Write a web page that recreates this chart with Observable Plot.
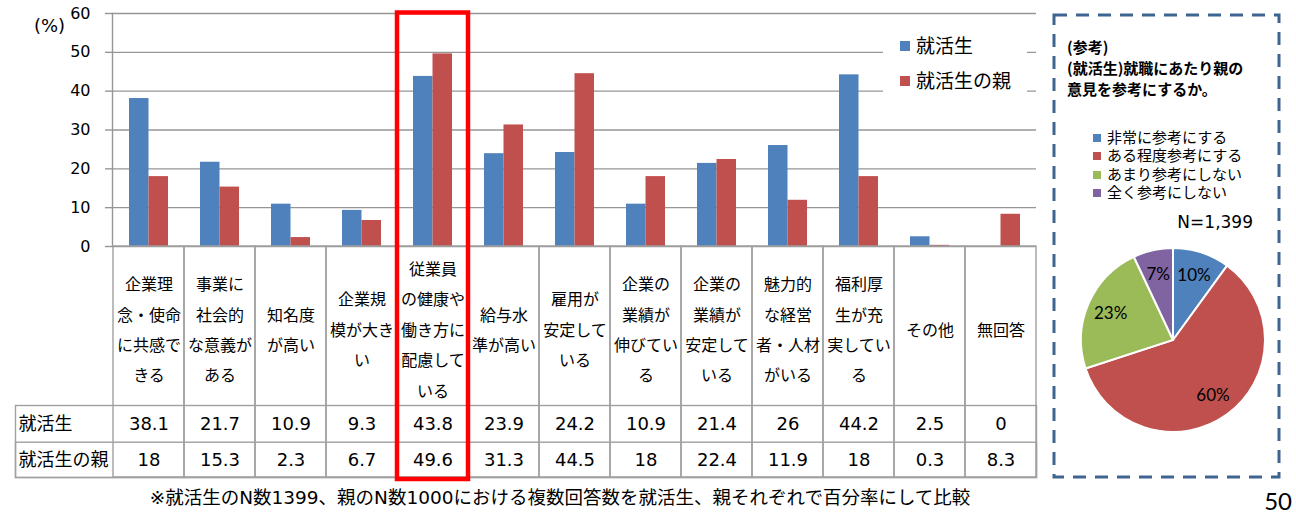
<!DOCTYPE html>
<html><head><meta charset="utf-8">
<script src="https://cdn.jsdelivr.net/npm/d3@7"></script>
<script src="https://cdn.jsdelivr.net/npm/@observablehq/plot@0.6"></script>
<style>
body{margin:0;background:#fff;}
#wrap{position:relative;width:1296px;height:517px;overflow:hidden;font-family:'Noto Sans CJK JP',sans-serif;background:#fff;}
#wrap svg{overflow:visible;}
.abs{position:absolute;}
</style></head><body><div id="wrap"></div>
<script>
// ---- data ----
const categories = ["企業理念・使命に共感できる","事業に社会的な意義がある","知名度が高い","企業規模が大きい","従業員の健康や働き方に配慮している","給与水準が高い","雇用が安定している","企業の業績が伸びている","企業の業績が安定している","魅力的な経営者・人材がいる","福利厚生が充実している","その他","無回答"];
const categoryLabels = ["企業理\n念・使命\nに共感で\nきる","事業に\n社会的\nな意義が\nある","知名度\nが高い","企業規\n模が大き\nい","従業員\nの健康や\n働き方に\n配慮して\nいる","給与水\n準が高い","雇用が\n安定して\nいる","企業の\n業績が\n伸びてい\nる","企業の\n業績が\n安定して\nいる","魅力的\nな経営\n者・人材\nがいる","福利厚\n生が充\n実してい\nる","その他","無回答"];
const seriesNames = ["就活生","就活生の親"];
const studentValues = [38.1,21.7,10.9,9.3,43.8,23.9,24.2,10.9,21.4,26,44.2,2.5,0];
const parentValues = [18,15.3,2.3,6.7,49.6,31.3,44.5,18,22.4,11.9,18,0.3,8.3];
const yTicks = [0,10,20,30,40,50,60];
const yUnit = "(%)";
const highlightCategory = categories[4];
const footnote = "※就活生のN数1399、親のN数1000における複数回答数を就活生、親それぞれで百分率にして比較";
const pageNumber = "50";

const pieTitle = ["(参考)","(就活生)就職にあたり親の","意見を参考にするか。"];
const pieLabels = ["非常に参考にする","ある程度参考にする","あまり参考にしない","全く参考にしない"];
const pieValues = [10,60,23,7];
const pieN = "N=1,399";

const seriesColors = ["#4F81BD","#C0504D"];
const pieColors = ["#4F81BD","#C0504D","#9BBB59","#8064A2"];

// ---- main chart ----
const rows = categories.map((c,i)=>({cat:c,label:categoryLabels[i],s:studentValues[i],p:parentValues[i]}));
const gridC = "#969696", tableC = "#a0a0a0";
const JP = "'Noto Sans CJK JP', sans-serif";
const NUM = "'DejaVu Sans', 'Noto Sans CJK JP', sans-serif";

const main = Plot.plot({
  width: 1040, height: 517,
  marginTop: 13, marginLeft: 112, marginRight: 4, marginBottom: 271,
  style: {fontFamily: NUM, background: "transparent", overflow: "visible", color: "#000"},
  x: {type: "band", domain: categories, padding: 0, axis: null},
  y: {domain: [0, 60], axis: null},
  color: {domain: seriesNames, range: seriesColors},
  marks: [
    Plot.gridY(yTicks, {stroke: gridC, strokeOpacity: 1, strokeWidth: 1.4}),
    Plot.axisY(yTicks, {tickSize: 7, tickPadding: 15, fontSize: 16, stroke: gridC, strokeWidth: 1.4, fill: "#000"}),
    Plot.frame({anchor: "left", stroke: gridC, strokeWidth: 1.4}),
    Plot.barY(rows, {x: "cat", y: "s", fill: () => seriesNames[0], insetLeft: 16, insetRight: 35.5}),
    Plot.barY(rows, {x: "cat", y: "p", fill: () => seriesNames[1], insetLeft: 35.5, insetRight: 16}),
    Plot.cell(rows, {x: "cat", stroke: tableC, strokeWidth: 1.4, fill: "none", insetTop: 233, insetBottom: -231}),
    Plot.frame({stroke: tableC, strokeWidth: 1.4, insetTop: 392, insetBottom: -231, insetLeft: -97}),
    Plot.frame({stroke: tableC, strokeWidth: 1.4, insetTop: 428.7, insetBottom: -231, insetLeft: -97}),
    Plot.text(rows, {x: "cat", text: "label", frameAnchor: "bottom", dy: 79.5, lineAnchor: "middle", lineHeight: 1.9, fontSize: 16, fontFamily: JP, fill: "#000"}),
    Plot.text(rows, {x: "cat", text: d => String(d.s), frameAnchor: "bottom", lineAnchor: "middle", dy: 178, fontSize: 18, fill: "#000"}),
    Plot.text(rows, {x: "cat", text: d => String(d.p), frameAnchor: "bottom", lineAnchor: "middle", dy: 214, fontSize: 18, fill: "#000"}),
    Plot.text([seriesNames[0]], {text: d => d, frameAnchor: "bottom-left", textAnchor: "start", lineAnchor: "middle", dx: -94, dy: 178, fontSize: 18, fontFamily: JP, fill: "#000"}),
    Plot.text([seriesNames[1]], {text: d => d, frameAnchor: "bottom-left", textAnchor: "start", lineAnchor: "middle", dx: -94, dy: 214, fontSize: 18, fontFamily: JP, fill: "#000"}),
    Plot.text([yUnit], {text: d => d, frameAnchor: "top-left", textAnchor: "middle", lineAnchor: "middle", dx: -63, dy: 13, fontSize: 18, fill: "#000"}),
    Plot.cell([highlightCategory], {x: d => d, stroke: "#FF0000", strokeWidth: 4.5, fill: "none", insetTop: -0.5, insetBottom: -233})
  ]
});
const wrap = document.getElementById("wrap");
main.classList.add("abs"); main.style.left = "0px"; main.style.top = "0px";
wrap.appendChild(main);

// main legend
const leg = document.createElement("div");
leg.className = "abs";
Object.assign(leg.style, {left: "883px", top: "28px", width: "144px", height: "70px", background: "#fff", fontFamily: JP, fontSize: "19px", color: "#000"});
seriesNames.forEach((n, i) => {
  const item = document.createElement("div");
  item.className = "abs";
  Object.assign(item.style, {left: "17px", top: (i * 35 + 3) + "px", height: "28px", lineHeight: "28px", whiteSpace: "nowrap"});
  item.innerHTML = `<span style="display:inline-block;width:10px;height:10px;background:${seriesColors[i]};margin-right:6px;vertical-align:middle;position:relative;top:-2px"></span>${n}`;
  leg.appendChild(item);
});
wrap.appendChild(leg);

// footnote & page number
const fn = document.createElement("div");
fn.className = "abs";
Object.assign(fn.style, {left: "0px", top: "486px", width: "1120px", textAlign: "center", fontSize: "18.5px", lineHeight: "24px", fontFamily: NUM, color: "#000", whiteSpace: "nowrap"});
fn.textContent = footnote;
wrap.appendChild(fn);
const pg = document.createElement("div");
pg.className = "abs";
Object.assign(pg.style, {left: "1230px", top: "487px", width: "62px", textAlign: "right", fontSize: "24px", lineHeight: "28px", fontFamily: "Lato, sans-serif", color: "#000"});
pg.textContent = pageNumber;
wrap.appendChild(pg);

// ---- pie panel ----
const svg = d3.create("svg").attr("width", 256).attr("height", 517).attr("class", "abs")
  .style("left", "1040px").style("top", "0px");
svg.append("rect").attr("x", 14).attr("y", 15).attr("width", 225).attr("height", 462)
  .attr("fill", "none").attr("stroke", "#3E6490").attr("stroke-width", 3).attr("stroke-dasharray", "13 9");
svg.append("g").selectAll("text").data(pieTitle).join("text")
  .attr("x", 27).attr("y", (d, i) => 48 + i * 21).attr("dy", "0.35em")
  .attr("font-family", JP).attr("font-weight", "bold").attr("font-size", 15).text(d => d);
svg.append("text").attr("x", 213).attr("y", 222).attr("dy", "0.35em").attr("text-anchor", "end")
  .attr("font-family", NUM).attr("font-size", 17).text(pieN);
const arcs = d3.pie().sort(null).startAngle(0).endAngle(2 * Math.PI)(pieValues);
const arc = d3.arc().innerRadius(0).outerRadius(92);
const labelArc = d3.arc().innerRadius(68).outerRadius(68);
const pg2 = svg.append("g").attr("transform", "translate(133,340)");
pg2.selectAll("path").data(arcs).join("path").attr("d", arc)
  .attr("fill", (d, i) => pieColors[i]).attr("stroke", "#fff").attr("stroke-width", 2);
pg2.selectAll("text").data(arcs).join("text")
  .attr("transform", d => `translate(${labelArc.centroid(d)})`).attr("text-anchor", "middle").attr("dy", "0.35em")
  .attr("font-family", "Lato, sans-serif").attr("font-size", 17).text(d => d.data + "%");
wrap.appendChild(svg.node());

// pie legend (tight line spacing as in the reference)
pieLabels.forEach((n, i) => {
  const item = document.createElement("div");
  item.className = "abs";
  Object.assign(item.style, {left: "1093px", top: (128 + i * 18.3) + "px", height: "18px", lineHeight: "18px", fontSize: "15px", fontFamily: JP, color: "#000", whiteSpace: "nowrap"});
  item.innerHTML = `<span style="display:inline-block;width:8px;height:8px;background:${pieColors[i]};margin-right:6px;vertical-align:middle;position:relative;top:-1px"></span>${n}`;
  wrap.appendChild(item);
});
</script>
</body></html>
